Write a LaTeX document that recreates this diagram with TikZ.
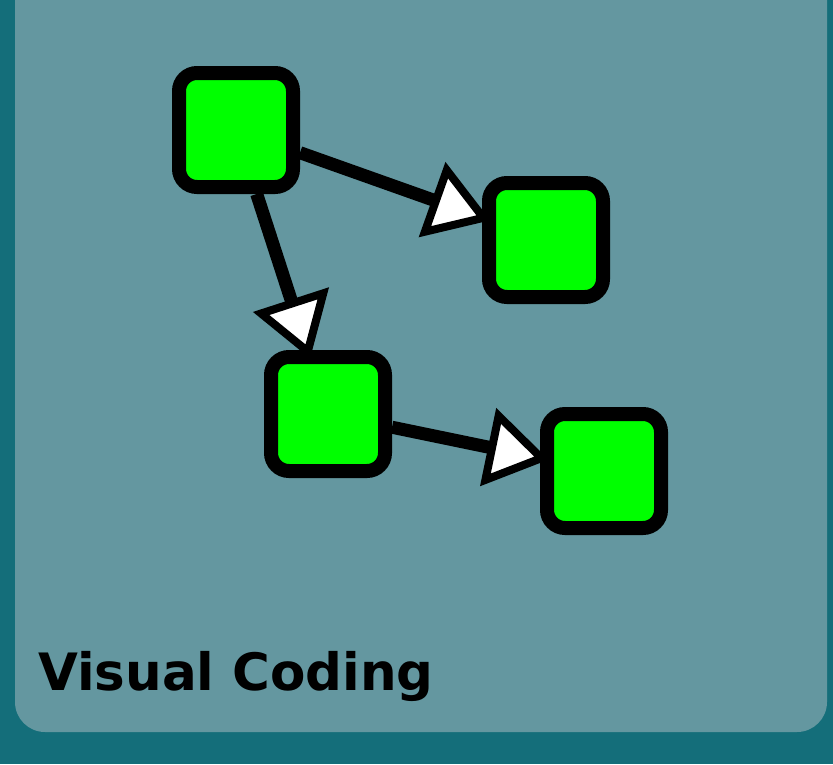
\documentclass[tikz,border=0pt]{standalone}
\usepackage{fontspec}
\setmainfont{DejaVu Sans}
\usetikzlibrary{arrows.meta}
\definecolor{bgteal}{HTML}{146E7A}
\definecolor{panel}{HTML}{6497A0}
\definecolor{nodegreen}{HTML}{00FF00}
\begin{document}
\begin{tikzpicture}[x=1pt,y=-1pt,
  box/.style={draw=black, line width=14pt, fill=nodegreen, rounded corners=18pt,
    minimum width=114pt, minimum height=114pt, inner sep=0pt, outer sep=7pt},
  conn/.style={draw=black, line width=13pt,
    -{Triangle[length=62pt, width=78pt, fill=white, line width=8pt]}, shorten >=-9pt}]
\fill[bgteal] (0,0) rectangle (833,764);
\useasboundingbox (0,0) rectangle (833,764);
\fill[panel, rounded corners=30pt] (15,-30) rectangle (827,732);
\node[box] (a) at (236,130) {};
\node[box] (b) at (546,240) {};
\node[box] (c) at (328,414) {};
\node[box] (d) at (604,471) {};
\draw[conn] (a) -- (b);
\draw[conn] (a) -- (c);
\draw[conn] (c) -- (d);
\node[anchor=base west, inner sep=0pt, font=\bfseries\fontsize{51.5pt}{60pt}\selectfont] (t) at (38,690) {Visual Coding};
\end{tikzpicture}
\end{document}
